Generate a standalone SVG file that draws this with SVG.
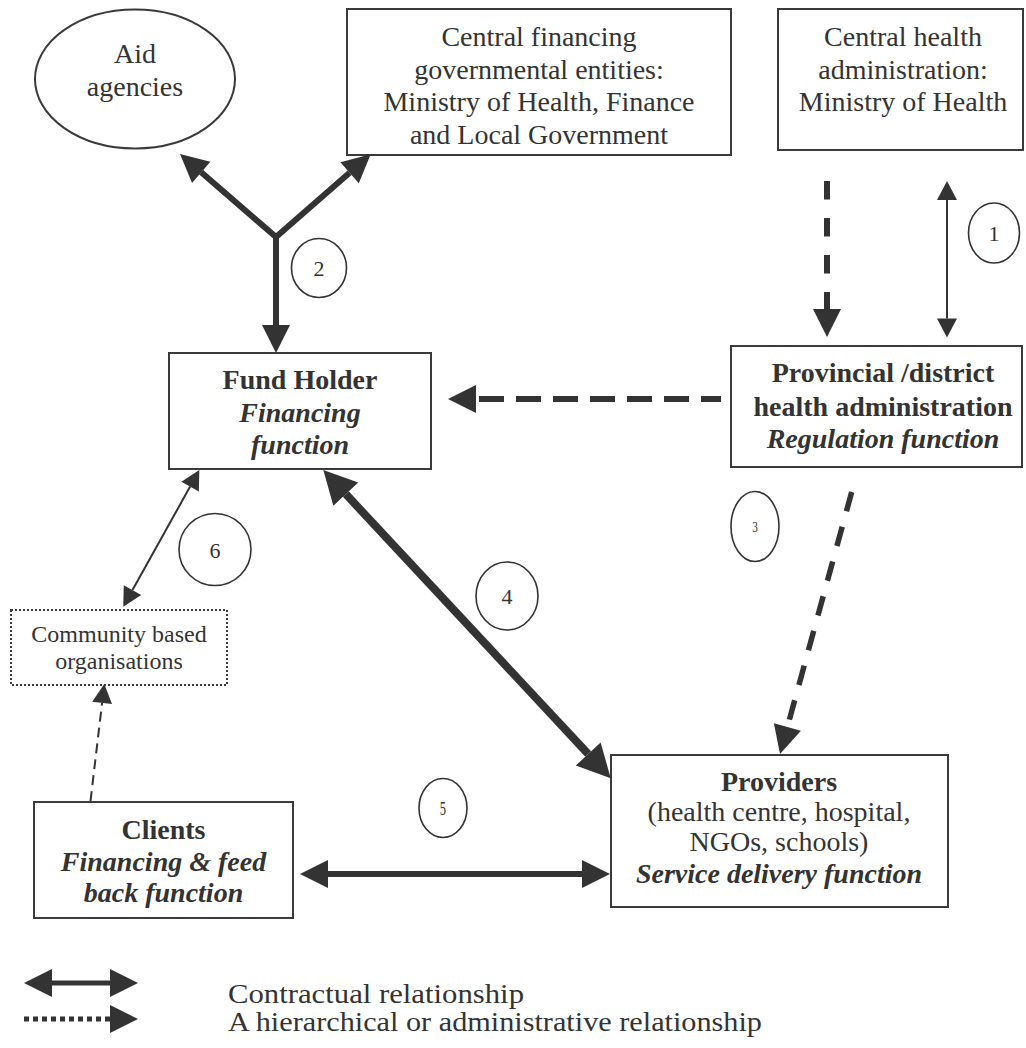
<svg xmlns="http://www.w3.org/2000/svg" width="1026" height="1048" viewBox="0 0 1026 1048">
<style>
text{font-family:"Liberation Serif","Times New Roman",serif;fill:#333;font-size:28px;text-anchor:middle}
.b{font-weight:bold}
.bi{font-weight:bold;font-style:italic}
.box{fill:#fff;stroke:#3a3a3a;stroke-width:2}
.dot{fill:#fff;stroke:#3a3a3a;stroke-width:2;stroke-dasharray:2 2}
.num{fill:none;stroke:#333;stroke-width:1.6}
.nt{font-size:22px}
.ln{fill:none;stroke:#333;stroke-linejoin:miter}
.legend{text-anchor:start;font-size:27px}
</style>
<defs>
<marker id="hL" markerUnits="userSpaceOnUse" orient="auto" overflow="visible" markerWidth="1" markerHeight="1" refX="0" refY="0"><path d="M0,-14 L28,0 L0,14 Z" fill="#333"/></marker>
<marker id="hLs" markerUnits="userSpaceOnUse" orient="auto" overflow="visible" markerWidth="1" markerHeight="1" refX="0" refY="0"><path d="M0,-14 L-28,0 L0,14 Z" fill="#333"/></marker>
<marker id="hX" markerUnits="userSpaceOnUse" orient="auto" overflow="visible" markerWidth="1" markerHeight="1" refX="0" refY="0"><path d="M0,-17 L33,0 L0,17 Z" fill="#333"/></marker>
<marker id="hXs" markerUnits="userSpaceOnUse" orient="auto" overflow="visible" markerWidth="1" markerHeight="1" refX="0" refY="0"><path d="M0,-17 L-33,0 L0,17 Z" fill="#333"/></marker>
<marker id="hS" markerUnits="userSpaceOnUse" orient="auto" overflow="visible" markerWidth="1" markerHeight="1" refX="0" refY="0"><path d="M0,-10 L19,0 L0,10 Z" fill="#333"/></marker>
<marker id="hSs" markerUnits="userSpaceOnUse" orient="auto" overflow="visible" markerWidth="1" markerHeight="1" refX="0" refY="0"><path d="M0,-10 L-19,0 L0,10 Z" fill="#333"/></marker>
</defs>
<rect width="1026" height="1048" fill="#fff"/>

<g id="aid-agencies">
<ellipse cx="135" cy="79" rx="100" ry="69.5" class="box"/>
<text x="135" y="63">Aid</text>
<text x="135" y="96">agencies</text>
</g>

<g id="central-financing">
<rect x="347" y="9" width="384" height="146" class="box"/>
<text x="539" y="46">Central financing</text>
<text x="539" y="78.5">governmental entities:</text>
<text x="539" y="111">Ministry of Health, Finance</text>
<text x="539" y="143.5">and Local Government</text>
</g>

<g id="central-health">
<rect x="778" y="9" width="245" height="141" class="box"/>
<text x="903" y="46">Central health</text>
<text x="903" y="78.5">administration:</text>
<text x="903" y="111">Ministry of Health</text>
</g>

<g id="fund-holder">
<rect x="169" y="353" width="262" height="116" class="box"/>
<text x="300" y="389" class="b">Fund Holder</text>
<text x="300" y="421.5" class="bi">Financing</text>
<text x="300" y="454" class="bi">function</text>
</g>

<g id="provincial">
<rect x="731" y="346" width="291" height="121" class="box"/>
<text x="883" y="382" class="b">Provincial /district</text>
<text x="883" y="415.5" class="b">health administration</text>
<text x="883" y="447.5" class="bi">Regulation function</text>
</g>

<g id="community">
<rect x="11" y="610" width="216" height="75" class="dot"/>
<text x="119" y="642" style="font-size:24px">Community based</text>
<text x="119" y="669" style="font-size:24px">organisations</text>
</g>

<g id="clients">
<rect x="34" y="802" width="259" height="116" class="box"/>
<text x="163.5" y="839" class="b">Clients</text>
<text x="163.5" y="871" class="bi">Financing &amp; feed</text>
<text x="163.5" y="902" class="bi">back function</text>
</g>

<g id="providers">
<rect x="611" y="755" width="337" height="152" class="box"/>
<text x="779" y="791" class="b">Providers</text>
<text x="779" y="821">(health centre, hospital,</text>
<text x="779" y="851">NGOs, schools)</text>
<text x="779" y="883" class="bi">Service delivery function</text>
</g>

<g id="connectors">
<path d="M201.2,172.3 L276,237 L349.6,172.7" class="ln" stroke-width="6" marker-start="url(#hLs)" marker-end="url(#hL)"/>
<path d="M276,237 V325" class="ln" stroke-width="6" marker-end="url(#hL)"/>
<path d="M827,181 V309" class="ln" stroke-width="6" stroke-dasharray="18.5 18.5" marker-end="url(#hL)"/>
<path d="M947,200 V318.5" class="ln" stroke-width="2" marker-start="url(#hSs)" marker-end="url(#hS)"/>
<path d="M721,399 H476" class="ln" stroke-width="6" stroke-dasharray="25 12" stroke-dashoffset="5" marker-end="url(#hL)"/>
<path d="M851.7,492 L787.4,727" class="ln" stroke-width="5.5" stroke-dasharray="20 16" marker-end="url(#hL)"/>
<path d="M345.8,494.1 L588.2,754" class="ln" stroke-width="8" marker-start="url(#hXs)" marker-end="url(#hX)"/>
<path d="M190.1,486.6 L132.5,590.1" class="ln" stroke-width="2" marker-start="url(#hSs)" marker-end="url(#hS)"/>
<path d="M90.5,801 L102.1,702.9" class="ln" stroke-width="2" stroke-dasharray="10 6" marker-end="url(#hS)"/>
<path d="M328,874 H582" class="ln" stroke-width="6" marker-start="url(#hLs)" marker-end="url(#hL)"/>
</g>

<g id="labels">
<ellipse cx="994" cy="233" rx="25.5" ry="30" class="num"/>
<text x="994" y="241" class="nt">1</text>
<ellipse cx="319" cy="268" rx="27.5" ry="29.5" class="num"/>
<text x="319" y="276" class="nt">2</text>
<ellipse cx="755" cy="526.5" rx="24" ry="35" class="num"/>
<text x="755" y="532" style="font-size:15px" transform="translate(755 0) scale(0.75 1) translate(-755 0)">3</text>
<ellipse cx="507" cy="596" rx="31" ry="34" class="num"/>
<text x="507" y="604" class="nt">4</text>
<ellipse cx="443" cy="808" rx="24" ry="29.5" class="num"/>
<text x="443" y="815" style="font-size:18px" transform="translate(443 0) scale(0.7 1) translate(-443 0)">5</text>
<ellipse cx="215" cy="549.5" rx="36" ry="36" class="num"/>
<text x="215" y="557.5" class="nt">6</text>
</g>

<g id="legend">
<path d="M52,983 H110" class="ln" stroke-width="5" marker-start="url(#hLs)" marker-end="url(#hL)"/>
<path d="M24,1019 H110" class="ln" stroke-width="5" stroke-dasharray="5 4" marker-end="url(#hL)"/>
<text x="228" y="1003" class="legend" textLength="296" lengthAdjust="spacingAndGlyphs">Contractual relationship</text>
<text x="228" y="1031" class="legend" textLength="534" lengthAdjust="spacingAndGlyphs">A hierarchical or administrative relationship</text>
</g>
</svg>
